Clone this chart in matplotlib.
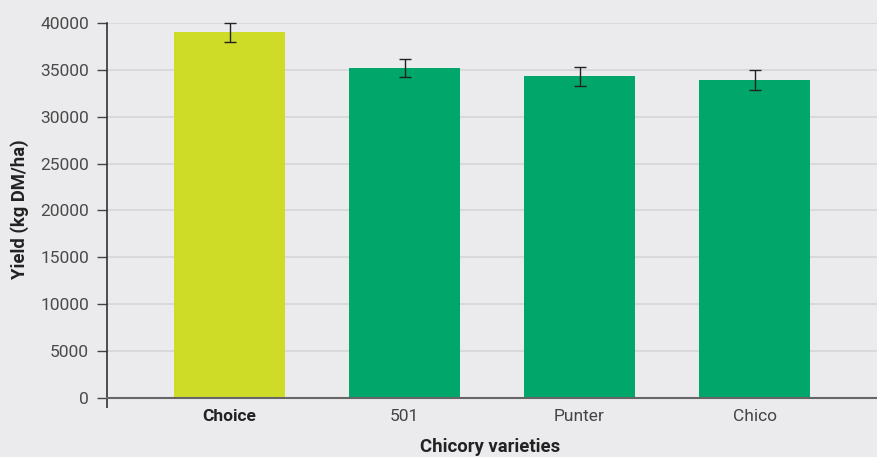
import matplotlib
matplotlib.use("Agg")
import matplotlib.pyplot as plt
import numpy as np

varieties = ["Choice", "501", "Punter", "Chico"]
yield_kg = [39000, 35200, 34300, 33900]
yield_err = [1000, 1000, 1050, 1050]
bar_colors = ["#cedc28", "#00a66a", "#00a66a", "#00a66a"]
y_ticks = [0, 5000, 10000, 15000, 20000, 25000, 30000, 35000, 40000]

BG = "#ebebed"
plt.rcParams["font.family"] = ["Roboto", "DejaVu Sans"]

fig = plt.figure(figsize=(8.77, 4.57), dpi=100, facecolor=BG)
ax = fig.add_axes([107 / 877, 59 / 457, 1 - 107 / 877, 375 / 457], facecolor=BG)

x = np.arange(len(varieties))
ax.bar(x, yield_kg, width=0.634, color=bar_colors, zorder=2)
ax.errorbar(x, yield_kg, yerr=yield_err, fmt="none", ecolor="#222222",
            elinewidth=1.0, capsize=4, capthick=1.0, zorder=3, clip_on=False)

ax.set_xlim(-0.7, 3.7)
ax.set_ylim(0, 40000)
ax.set_yticks(y_ticks)
ax.set_yticklabels([str(v) for v in y_ticks], fontsize=12.5, color="#4a4a4a")
ax.tick_params(axis="y", length=7, width=1, color="#444444", pad=6)
ax.grid(axis="y", color="#d6d6d8", lw=1.2, zorder=0)
ax.set_axisbelow(True)

ax.set_xticks(x)
ax.set_xticklabels(varieties, fontsize=12.5, color="#444444")
ax.get_xticklabels()[0].set_fontweight("bold")
ax.get_xticklabels()[0].set_color("#222222")
ax.tick_params(axis="x", length=0, pad=8)
ax.set_xticks([-0.7], minor=True)
ax.tick_params(axis="x", which="minor", length=7, width=1.2, color="#333333")

for s in ["top", "right"]:
    ax.spines[s].set_visible(False)
ax.spines["left"].set_color("#333333")
ax.spines["left"].set_linewidth(1.2)
ax.spines["bottom"].set_color("#666666")
ax.spines["bottom"].set_linewidth(1.5)

fig.text(20 / 877, 1 - 209 / 457, "Yield (kg DM/ha)", rotation=90, fontsize=13.3,
         fontweight="bold", color="#222222", ha="center", va="center")
fig.text(490 / 877, 5 / 457, "Chicory varieties", fontsize=13.3,
         fontweight="bold", color="#222222", ha="center", va="baseline")

fig.savefig("out.png", dpi=100, facecolor=BG)
